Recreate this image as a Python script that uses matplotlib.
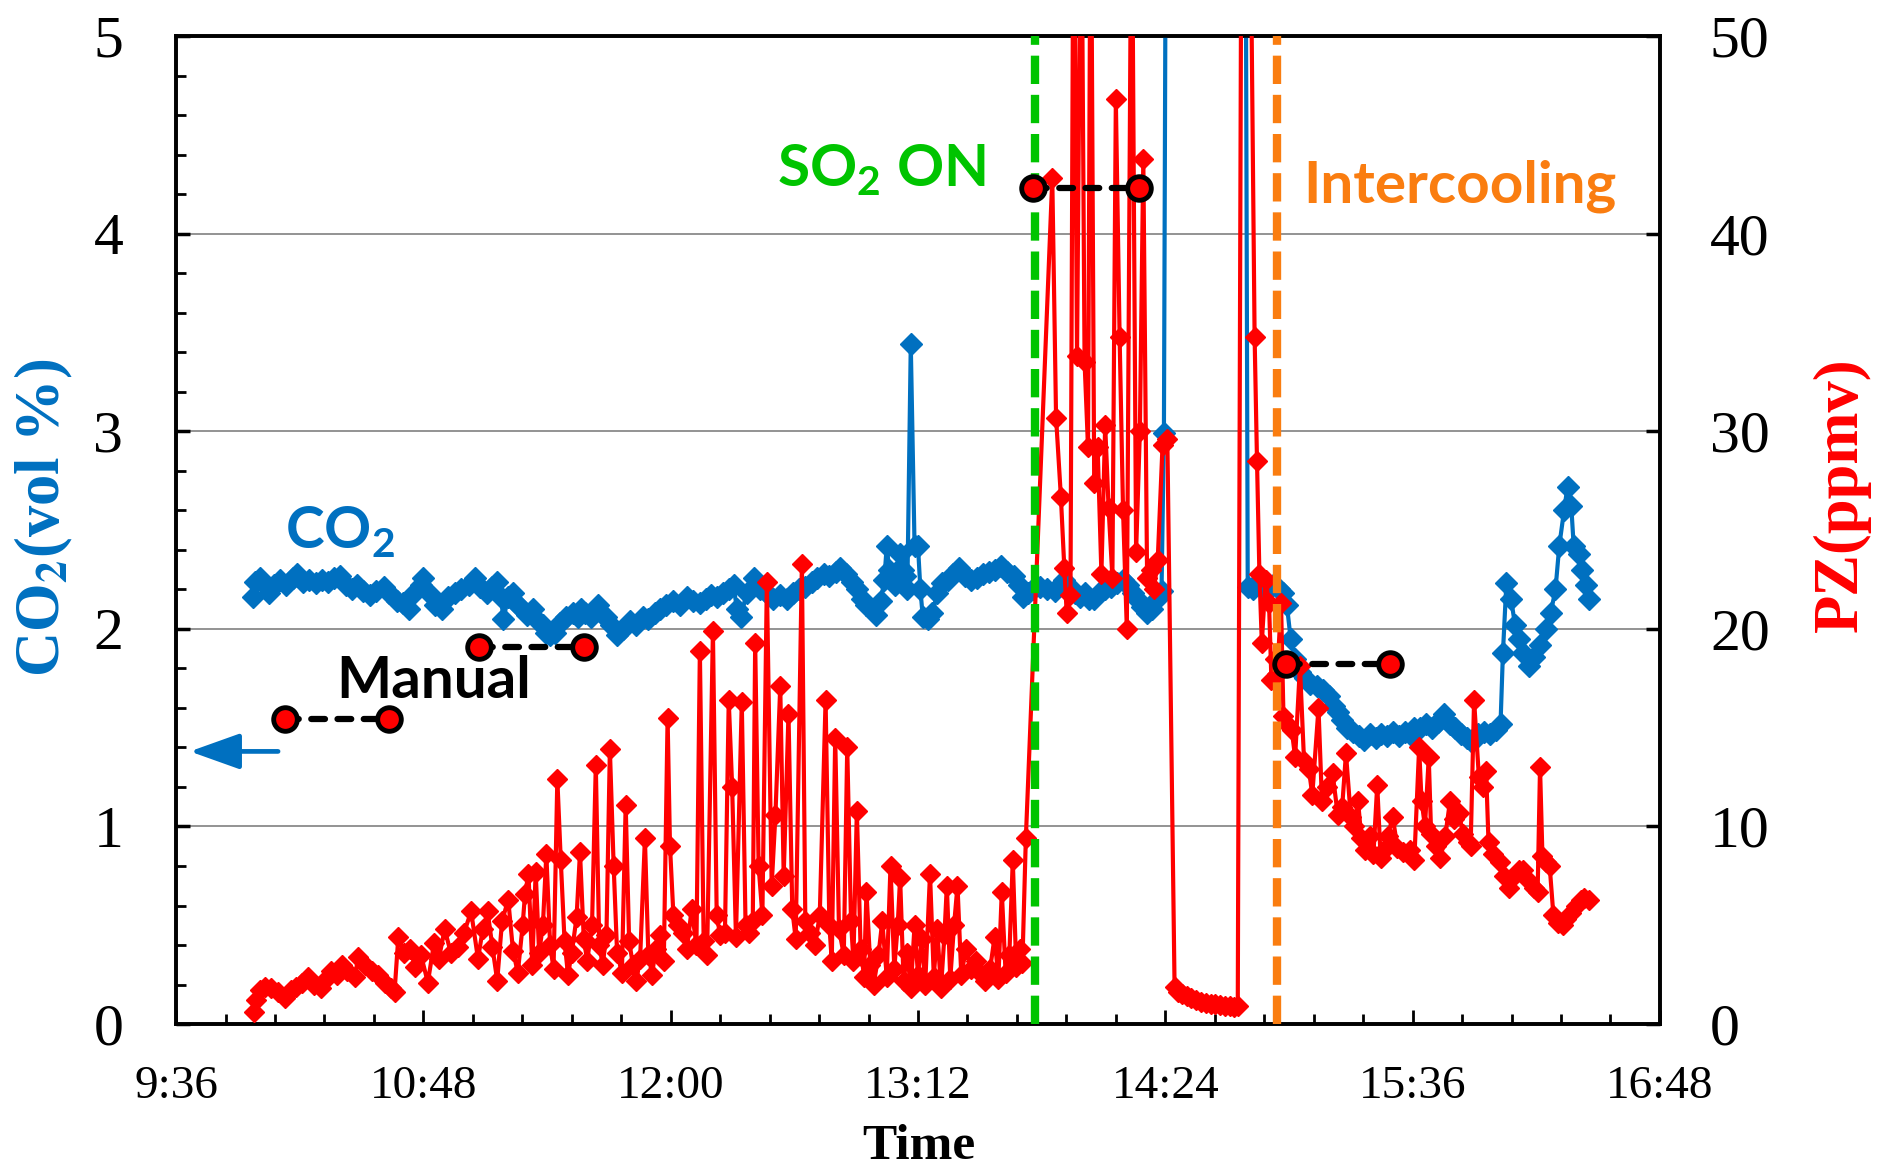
import numpy as np
import matplotlib.pyplot as plt
from matplotlib.ticker import MultipleLocator, FuncFormatter

plt.rcParams.update({
    "font.family": "Liberation Serif",
    "mathtext.fontset": "custom",
    "mathtext.rm": "Lato:bold",
    "mathtext.bf": "Lato:bold",
})

START = 9 * 60 + 36  # axis origin, minutes after midnight

# CO2 analyser (vol %), time in minutes after 9:36
co2_t = [22.3, 23.0, 24.4, 25.8, 27.2, 28.6, 30.4, 32.1, 33.9, 35.2, 37.0, 38.7, 40.8, 42.6,
         44.3, 46.1, 47.8, 49.6, 51.3, 52.7, 54.4, 56.5, 58.3, 60.4, 62.1, 64.2, 66.0, 67.7,
         69.4, 71.2, 71.9, 73.6, 75.4, 77.5, 79.2, 81.3, 83.1, 85.2, 86.9, 88.6, 90.4, 92.1,
         93.5, 94.6, 95.3, 96.7, 98.1, 99.1, 100.2, 102.3, 104.0, 105.4, 106.8, 107.8, 108.9,
         110.3, 111.7, 113.4, 115.5, 116.9, 118.0, 119.0, 120.8, 122.8, 124.2, 125.3, 126.7,
         128.4, 130.2, 132.3, 134.0, 135.8, 137.5, 139.3, 141.0, 142.7, 144.8, 146.6, 148.7,
         150.4, 152.5, 154.3, 155.6, 157.4, 159.1, 160.9, 162.3, 163.3, 164.4, 166.1, 168.2,
         170.0, 172.0, 173.8, 175.9, 178.0, 179.7, 181.5, 183.2, 185.0, 186.7, 188.5, 190.2,
         192.0, 193.3, 195.1, 196.8, 198.2, 199.6, 201.0, 202.4, 203.8, 205.2, 206.2, 206.9,
         207.6, 208.3, 209.4, 210.1, 210.8, 211.5, 212.2, 212.9, 213.9, 215.0, 216.0, 216.7,
         217.4, 218.8, 220.2, 221.6, 223.0, 224.7, 226.1, 227.9, 229.6, 231.4, 233.1, 234.9,
         236.6, 238.3, 240.1, 241.8, 243.9, 245.3, 246.7, 248.1, 249.5, 251.6, 253.7, 255.8,
         257.2, 258.6, 260.4, 261.7, 263.1, 264.5, 265.9, 267.3, 268.7, 270.5, 272.2, 274.0,
         275.7, 277.1, 278.5, 279.9, 281.3, 282.7, 284.1, 285.5, 286.9, 287.6, 288.6,
         311.0, 312.0, 313.4, 314.8, 316.2, 317.6, 319.3, 321.0, 322.4, 323.4, 324.5, 325.9,
         327.2, 328.6, 330.0, 332.1, 333.9, 335.6, 337.0, 338.4, 339.5, 340.9, 342.6, 344.4,
         345.8, 347.6, 349.3, 350.7, 352.5, 354.2, 356.0, 357.7, 359.1, 360.5, 362.2, 364.0,
         365.7, 367.4, 369.2, 370.9, 372.3, 374.1, 375.8, 377.2, 379.0, 380.7, 382.4, 384.2,
         385.6, 386.3, 387.3, 388.7, 389.8, 390.9, 392.2, 394.0, 395.4, 397.1, 398.9, 400.2,
         401.6, 402.7, 404.1, 405.1, 406.2, 406.9, 408.3, 409.3, 410.4, 411.4]
co2_v = [2.16, 2.24, 2.26, 2.22, 2.18, 2.22, 2.25, 2.22, 2.26, 2.28, 2.24, 2.25, 2.23, 2.25,
         2.24, 2.26, 2.27, 2.22, 2.20, 2.22, 2.19, 2.17, 2.19, 2.21, 2.18, 2.14, 2.13, 2.10,
         2.18, 2.22, 2.26, 2.18, 2.12, 2.10, 2.16, 2.18, 2.20, 2.22, 2.26, 2.21, 2.18, 2.21,
         2.24, 2.16, 2.05, 2.16, 2.18, 2.13, 2.11, 2.07, 2.10, 2.04, 2.02, 1.98, 1.97,
         1.98, 2.03, 2.06, 2.08, 2.06, 2.10, 2.08, 2.06, 2.12, 2.07, 2.06, 2.02,
         1.97, 2.00, 2.04, 2.02, 2.06, 2.05, 2.08, 2.10, 2.12, 2.14, 2.12, 2.16,
         2.14, 2.13, 2.15, 2.17, 2.16, 2.18, 2.20, 2.22, 2.10, 2.06, 2.18, 2.26,
         2.20, 2.18, 2.15, 2.17, 2.15, 2.18, 2.20, 2.21, 2.24, 2.26, 2.28, 2.27,
         2.29, 2.31, 2.28, 2.24, 2.20, 2.15, 2.12, 2.10, 2.07, 2.14, 2.25, 2.42,
         2.30, 2.27, 2.22, 2.30, 2.38, 2.30, 2.27, 2.20, 3.44, 2.42, 2.42, 2.20,
         2.06, 2.05, 2.08, 2.18, 2.23, 2.25, 2.28, 2.31, 2.27, 2.25, 2.26, 2.28,
         2.29, 2.30, 2.32, 2.29, 2.27, 2.22, 2.16, 2.18, 2.20, 2.21, 2.20, 2.19,
         2.22, 2.25, 2.21, 2.18, 2.16, 2.18, 2.15, 2.15, 2.18, 2.20, 2.21, 2.23,
         2.25, 2.22, 2.18, 2.15, 2.11, 2.08, 2.10, 2.15, 2.19, 2.99, 8.0,
         8.0, 2.21, 2.20, 2.23, 2.21, 2.21, 2.22, 2.20, 2.18, 2.12, 1.95, 1.85,
         1.78, 1.75, 1.72, 1.71, 1.69, 1.66, 1.61, 1.58, 1.54, 1.50, 1.48, 1.46,
         1.44, 1.47, 1.45, 1.47, 1.46, 1.48, 1.46, 1.48, 1.47, 1.50, 1.50, 1.52,
         1.50, 1.53, 1.57, 1.52, 1.50, 1.47, 1.45, 1.43, 1.47, 1.48, 1.47, 1.49,
         1.52, 1.88, 2.23, 2.15, 2.02, 1.95, 1.88, 1.81, 1.86, 1.92, 2.00, 2.08,
         2.20, 2.42, 2.60, 2.72, 2.62, 2.42, 2.38, 2.30, 2.22, 2.15]

# PZ (ppmv), time in minutes after 9:36
pz_t = [22.7, 23.4, 24.4, 25.8, 27.5, 29.6, 31.8, 33.5, 35.0, 36.6, 38.4, 40.1, 42.2, 43.6,
        45.0, 46.8, 48.2, 49.9, 52.0, 53.1, 54.9, 57.0, 58.7, 60.8, 62.5, 63.6, 64.7, 66.4,
        68.1, 69.6, 71.3, 73.3, 75.1, 76.5, 78.2, 80.0, 82.0, 83.8, 85.9, 87.9, 89.3, 90.7,
        92.1, 93.5, 94.9, 96.7, 98.1, 99.5, 100.9, 101.6,
        102.6, 103.7, 104.7, 105.7, 106.8, 107.8, 108.9, 109.9, 111.0, 112.0, 113.1, 114.1,
        115.2, 116.6, 117.6, 118.7, 119.7, 121.1, 122.2, 123.2, 124.2, 125.3, 126.3, 127.4,
        128.4, 129.8, 130.9, 131.9, 133.0, 134.0, 135.1, 136.5, 137.5, 138.6, 139.6, 141.0,
        142.0, 143.1, 143.8, 144.8, 146.2, 147.6, 148.7, 150.1, 151.5, 152.5, 153.6, 154.6,
        156.3, 157.4, 158.4, 159.8, 160.9, 161.9, 163.0, 164.7, 165.8, 166.8, 167.9, 168.6,
        169.6, 170.7, 172.0, 173.4, 174.5, 175.9, 176.9, 178.3, 179.4, 180.4, 182.2, 183.2,
        184.6, 186.0, 187.4, 189.1, 190.2, 190.9, 191.9, 193.0, 194.4, 195.4, 196.5, 197.2,
        198.2, 199.3, 200.3, 201.0, 202.1, 203.1, 204.5, 205.6, 206.9, 208.0, 209.1, 210.1,
        210.8, 211.8, 212.9, 213.9, 215.0, 216.0, 217.1, 218.1, 219.5, 220.6, 221.6, 222.7,
        223.7, 224.4, 225.4, 226.5, 227.5, 228.6, 230.0, 231.4, 232.8, 234.2, 235.6, 237.0,
        238.3, 239.4, 240.4, 241.5, 242.6, 243.6, 244.6, 245.7, 246.4, 247.4,
        255.1, 256.2, 257.6, 258.6, 259.3, 260.4, 261.3, 262.3, 263.5, 264.5, 265.5, 266.3,
        267.3, 268.3, 269.4, 270.5, 271.5, 272.6, 273.6, 274.7, 275.7, 276.8, 278.2, 279.5,
        280.6, 281.6, 282.7, 283.7, 284.7, 285.8, 287.2, 288.6,
        290.7, 291.7, 292.8, 294.2, 295.6, 297.0, 298.4, 299.8, 301.2, 302.6, 304.0, 305.4,
        306.7, 308.1, 309.1, 310.2, 312.6,
        314.0, 314.7, 315.4, 316.1, 317.2, 318.2, 318.9, 319.9, 320.6, 321.7, 322.4, 323.4,
        324.8, 325.8, 327.2, 328.4, 329.8, 330.8, 332.6, 333.6, 335.0, 336.7, 338.2, 339.5,
        340.6, 342.0, 343.0, 344.1, 345.1, 346.2, 347.6, 348.6, 349.7, 350.7, 351.8, 352.8,
        354.2, 355.6, 357.3, 359.1, 360.5, 361.9, 362.6, 363.6, 364.7, 365.4, 366.7, 368.1,
        369.5, 370.9, 372.0, 373.4, 374.8, 376.2, 376.9, 377.9, 379.3, 380.4, 381.4, 382.1,
        383.5, 385.3, 386.7, 388.0, 389.5, 390.9, 392.2, 393.6, 395.4, 396.4, 397.1, 397.8,
        398.9, 399.9, 401.0, 402.3, 403.7, 404.8, 406.2, 407.6, 409.0, 410.0, 411.4]
pz_v = [0.6, 1.2, 1.7, 1.9, 1.8, 1.6, 1.3, 1.7, 1.9, 2.1, 2.4, 2.0, 1.8, 2.3,
        2.7, 2.5, 3.0, 2.7, 2.4, 3.4, 3.0, 2.7, 2.5, 2.1, 1.8, 1.6, 4.4, 3.6,
        3.8, 2.9, 3.5, 2.1, 4.1, 3.3, 4.8, 3.6, 3.9, 4.6, 5.7, 3.3, 4.8, 5.7,
        3.9, 2.2, 5.2, 6.3, 3.7, 2.6, 5.0, 6.6,
        7.6, 3.0, 7.7, 3.6, 5.0, 8.6, 4.0, 2.8, 12.4, 8.3, 4.2, 2.5,
        3.6, 5.4, 8.7, 4.3, 3.2, 5.0, 13.1, 4.0, 3.0, 4.5, 13.9, 8.0,
        3.6, 2.6, 11.1, 4.2, 3.0, 2.2, 3.3, 9.4, 3.5, 2.5, 3.8, 4.5,
        3.2, 15.5, 9.0, 5.5, 5.0, 4.6, 3.8, 5.8, 4.0, 18.9, 4.2, 3.5,
        19.9, 5.5, 4.5, 4.6, 16.4, 12.0, 4.4, 16.3, 5.0, 4.6, 5.2, 19.3,
        8.0, 5.5, 22.4, 7.0, 10.6, 17.1, 7.5, 15.7, 5.8, 4.3, 23.3, 5.2,
        4.6, 4.0, 5.5, 16.4, 5.0, 3.2, 14.5, 4.8, 3.5, 14.0, 5.2, 3.2,
        10.8, 3.8, 2.4, 6.7, 3.0, 2.0, 3.5, 5.2, 2.4, 8.0, 2.8, 5.0,
        7.4, 2.2, 3.6, 1.8, 5.0, 2.5, 4.3, 2.0, 7.6, 2.4, 4.8, 1.8,
        4.5, 7.0, 2.3, 5.0, 7.0, 2.5, 3.8, 2.8, 3.2, 2.6, 2.2, 2.8,
        4.4, 2.3, 6.7, 2.6, 3.5, 8.3, 2.9, 3.8, 3.1, 9.4,
        42.8, 30.7, 26.7, 23.1, 20.8, 21.7, 60.0, 33.8, 60.0, 33.5, 29.2, 60.0,
        27.4, 29.2, 22.8, 30.3, 26.1, 22.6, 46.8, 34.8, 26.0, 20.0, 60.0, 23.9,
        30.0, 43.8, 22.6, 23.0, 22.0, 23.5, 29.3, 29.6,
        1.9, 1.6, 1.5, 1.4, 1.3, 1.2, 1.1, 1.05, 1.0, 1.0, 0.95, 0.9,
        0.9, 0.85, 0.9, 60.0, 60.0,
        34.8, 28.5, 22.8, 19.3, 22.5, 21.3, 17.4, 18.5, 17.7, 21.3, 15.6, 15.2,
        14.9, 13.5, 18.1, 13.3, 12.9, 11.6, 16.0, 11.3, 12.0, 12.7, 10.6, 11.0,
        13.7, 10.5, 10.0, 11.3, 9.4, 8.8, 9.5, 8.6, 12.1, 8.4, 8.8, 9.5,
        10.5, 8.9, 8.7, 8.8, 8.3, 14.0, 11.3, 10.0, 13.5, 9.6, 9.0, 8.4,
        9.5, 11.3, 10.4, 10.7, 9.6, 9.2, 9.0, 16.4, 12.5, 12.0, 12.8, 9.2,
        8.6, 8.2, 7.5, 6.9, 7.5, 7.8, 7.8, 7.3, 6.9, 6.7, 13.0, 8.5,
        8.2, 8.0, 5.5, 5.1, 5.0, 5.3, 5.6, 6.0, 6.3, 6.4, 6.3]

# manual PZ samples: start/end of each sampling period
manual_t = [(31.8, 62.1), (88.3, 118.7), (249.5, 280.2), (323.2, 353.5)]
manual_pz = [15.45, 19.1, 42.3, 18.2]

so2_on_t = 250.2
intercool_t = 320.4

BLUE = "#0070C0"
RED = "#FF0000"
GREEN = "#00C400"
ORANGE = "#FA7D10"

fig = plt.figure(figsize=(18.79, 11.69), dpi=100)
ax1 = fig.add_axes([0.0937, 0.124, 0.7897, 0.845])
ax2 = ax1.twinx()

ax1.plot(co2_t, co2_v, color=BLUE, lw=3.0, marker="D", ms=11.5, mew=1, zorder=3)
ax2.plot(pz_t, pz_v, color=RED, lw=3.0, marker="D", ms=10.5, mew=1, zorder=3)

for (t0, t1), v in zip(manual_t, manual_pz):
    ax2.plot([t0, t1], [v, v], color="black", lw=4.5, ls=(0, (2.2, 2.0)),
             dash_capstyle="round", zorder=6)
    ax2.plot([t0, t1], [v, v], ls="none", marker="o", ms=17, mfc=RED, mec="black",
             mew=3.5, zorder=7)

ax2.axvline(so2_on_t, color=GREEN, lw=6, ls=(0, (3.4, 1.3)), zorder=5)
ax2.axvline(intercool_t, color=ORANGE, lw=6, ls=(0, (3.4, 1.3)), zorder=5)

ax1.annotate("", xy=(4.0, 1.38), xytext=(29.7, 1.38),
             arrowprops=dict(arrowstyle="-|>,head_length=1.4,head_width=0.5",
                             color=BLUE, lw=3.4, mutation_scale=22, shrinkA=0, shrinkB=0))

ann = dict(family="Lato", fontweight="bold", fontsize=42, ha="center", va="baseline")
ax1.text(47.8, 2.41, r"CO$_\mathbf{2}$", color=BLUE, zorder=8, **ann)
ax1.text(75.0, 1.65, "Manual", color="black", zorder=8, **ann)
ax2.text(205.2, 42.4, r"SO$_\mathbf{2}$ ON", color=GREEN, zorder=8, **ann)
ax2.text(373.8, 41.6, "Intercooling", color=ORANGE, zorder=8, **ann)

ax1.set_xlim(0, 432)
ax1.set_ylim(0, 5)
ax2.set_ylim(0, 50)

ax1.xaxis.set_major_locator(MultipleLocator(72))
ax1.xaxis.set_minor_locator(MultipleLocator(14.4))
ax1.xaxis.set_major_formatter(FuncFormatter(
    lambda v, p: "%d:%02d" % divmod(int(round(START + v)), 60)))
ax1.yaxis.set_major_locator(MultipleLocator(1))
ax1.yaxis.set_minor_locator(MultipleLocator(0.2))
ax2.yaxis.set_major_locator(MultipleLocator(10))

ax1.tick_params(axis="x", which="major", direction="in", length=10, width=2, labelsize=34, pad=30)
ax1.tick_params(axis="x", which="minor", direction="in", length=7, width=2)
ax1.tick_params(axis="y", which="major", direction="in", length=10, width=2.5, labelsize=43, pad=38)
ax1.tick_params(axis="y", which="minor", direction="in", length=7, width=2)
ax2.tick_params(axis="y", which="major", direction="in", length=10, width=2.5, labelsize=43, pad=36)

ax1.grid(axis="y", color="#808080", lw=1.2)
ax1.set_axisbelow(True)
for ax in (ax1, ax2):
    for s in ax.spines.values():
        s.set_linewidth(2.6)

fig.text(0.0234, 0.557, r"CO$_\mathbf{2}$(vol %)", rotation=90, color=BLUE,
         fontsize=45, fontweight="bold", ha="center", va="center", math_fontfamily="stix")
fig.text(0.980, 0.577, "PZ(ppmv)", rotation=90, color=RED,
         fontsize=45, fontweight="bold", ha="center", va="center")
fig.text(0.489, 0.019, "Time", fontsize=37, fontweight="bold", ha="center", va="center")

fig.savefig("out.png", dpi=100)
